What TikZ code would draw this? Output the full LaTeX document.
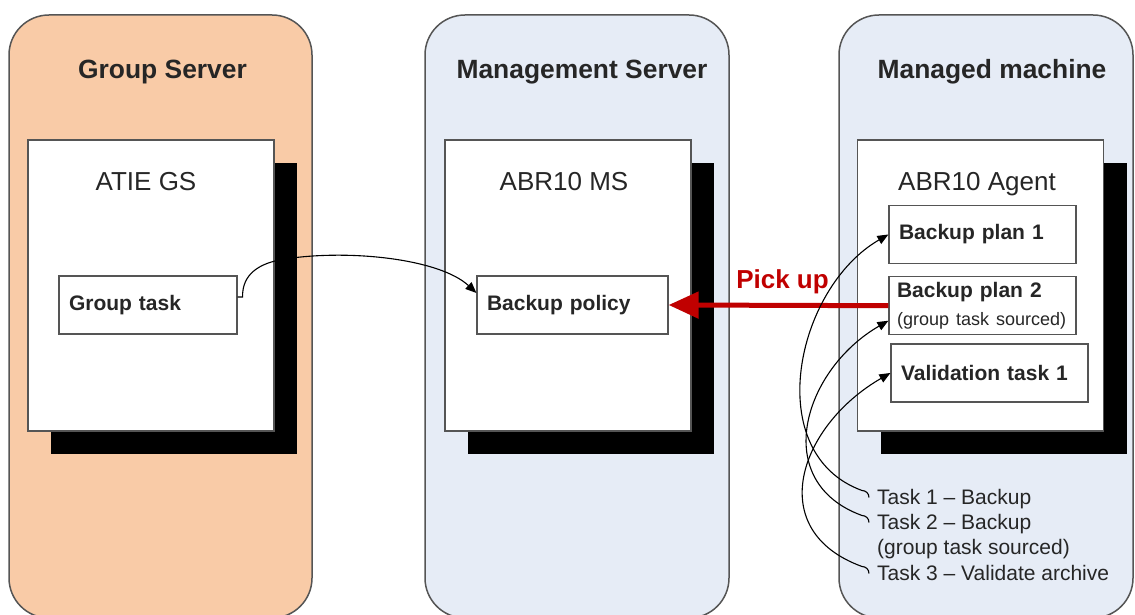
\documentclass[tikz,border=0pt]{standalone}
\usepackage{fontspec}
\setmainfont{Liberation Sans}
\usepackage{tikz}
\usetikzlibrary{positioning, arrows.meta, shadows}

\definecolor{gsorange}{RGB}{249,203,167}
\definecolor{msblue}{RGB}{230,236,246}
\definecolor{edgegray}{RGB}{85,85,85}
\definecolor{pickred}{RGB}{192,0,0}
\definecolor{inkgray}{RGB}{38,38,38}

\begin{document}
\begin{tikzpicture}[
    x=1pt, y=1pt,
    panel/.style={draw=edgegray, line width=1.5pt, rounded corners=40pt, minimum width=#1, minimum height=603pt, inner sep=0pt},
    paneltitle/.style={anchor=base, font=\fontsize{26.4}{30}\selectfont\bfseries, text=inkgray},
    host/.style={draw=edgegray, line width=1.2pt, fill=white, minimum width=246pt, minimum height=291pt, inner sep=0pt,
        drop shadow={shadow xshift=23pt, shadow yshift=-23pt, fill=black, opacity=1}},
    hostlabel/.style={anchor=base, font=\fontsize{26}{30}\selectfont, text=inkgray},
    taskbox/.style={draw=edgegray, line width=1.2pt, fill=white, minimum height=58pt, text width=#1, inner xsep=10pt,
        align=left, font=\fontsize{21}{25}\selectfont\bfseries, text=inkgray},
    tasklabel/.style={anchor=base west, inner sep=2pt, font=\fontsize{21}{25}\selectfont, text=inkgray},
    link/.style={-{Triangle[length=11pt, width=9pt]}, line width=1.1pt, black},
    pickup/.style={-{Triangle[length=30pt, width=26pt]}, line width=5pt, pickred}
]
    \useasboundingbox (0,0) rectangle (1135,615);

    % PANELS
    \node[panel=303pt, fill=gsorange] (gs) at (160.5,298.5) {};
    \node[panel=304pt, fill=msblue] (ms) at (577,298.5) {};
    \node[panel=294pt, fill=msblue] (mm) at (986,298.5) {};

    \node[paneltitle] (gstitle) at ([xshift=2pt, yshift=-64.5pt]gs.north) {Group Server};
    \node[paneltitle] (mstitle) at ([xshift=5pt, yshift=-64.5pt]ms.north) {Management Server};
    \node[paneltitle] (mmtitle) at ([xshift=6pt, yshift=-64.5pt]mm.north) {Managed machine};

    % HOSTS
    \node[host] (atie) at (151,329.5) {};
    \node[host] (abrms) at (568,329.5) {};
    \node[host] (agent) at (980.5,329.5) {};

    \node[hostlabel] (atielabel) at ([xshift=-5pt, yshift=-51pt]atie.north) {ATIE GS};
    \node[hostlabel] (abrmslabel) at ([xshift=-4pt, yshift=-51pt]abrms.north) {ABR10 MS};
    \node[hostlabel] (agentlabel) at ([xshift=-3.5pt, yshift=-51pt]agent.north) {ABR10 Agent};

    % TASKS
    \node[taskbox=158pt] (gtask) at (148,310) {Group task};
    \node[taskbox=171pt] (policy) at (572.5,310) {Backup policy};
    \node[taskbox=167pt] (plan1) at (982.5,380.5) {Backup plan 1};
    \node[taskbox=171pt, inner xsep=8pt, below=12pt of plan1] (plan2) {Backup plan 2\\[3pt]{\mdseries\fontsize{18}{22}\selectfont(group task sourced)}};
    \node[taskbox=177pt] (valid) at (989.5,242) {Validation task 1};

    \node[tasklabel] (t1) at (875,110.5) {Task 1 -- Backup};
    \node[tasklabel] (t2) at (875,85.5) {Task 2 -- Backup};
    \node[tasklabel] (t2note) at (875,60) {(group task sourced)};
    \node[tasklabel] (t3) at (875,34.5) {Task 3 -- Validate archive};

    % EDGES
    \draw[link] ([yshift=8pt]gtask.east) -- ++(5,0)
        .. controls (242,340) and (258,352) .. (285,356)
        .. controls (350,366) and (440,356) .. ([yshift=12pt]policy.west);

    \draw[pickup] (plan2.west) -- (policy.east)
        node[midway, xshift=4pt, yshift=24pt, font=\fontsize{26}{30}\selectfont\bfseries, text=pickred] (pickuplabel) {Pick up};

    \draw[link] ([xshift=-6pt, yshift=7pt]t1.base west) to[out=90, in=0] ++(-7,7)
        to[out=160, in=210, looseness=1.07] (plan1.west);
    \draw[link] ([xshift=-6pt, yshift=7pt]t2.base west) to[out=90, in=0] ++(-7,7)
        to[out=160, in=210, looseness=1.28] ([yshift=-15pt]plan2.west);
    \draw[link] ([xshift=-6pt, yshift=7pt]t3.base west) to[out=90, in=0] ++(-7,7)
        to[out=160, in=210, looseness=1.38] (valid.west);

\end{tikzpicture}
\end{document}
